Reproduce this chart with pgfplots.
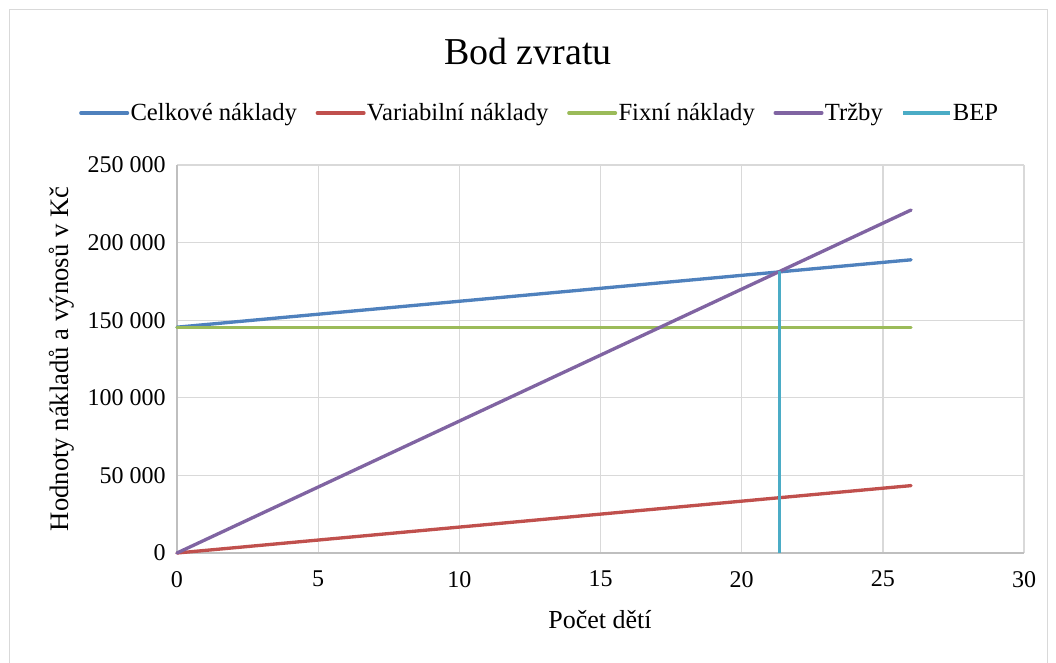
\documentclass[border=0pt]{standalone}
\usepackage{pgfplots}
\pgfplotsset{compat=1.18}
\usepackage{fontspec}
\setmainfont{Liberation Serif}
\definecolor{cCel}{HTML}{4F81BD}
\definecolor{cVar}{HTML}{C0504D}
\definecolor{cFix}{HTML}{9BBB59}
\definecolor{cTrz}{HTML}{8064A2}
\definecolor{cBEP}{HTML}{4BACC6}
\definecolor{gridc}{HTML}{D9D9D9}
\definecolor{axisc}{HTML}{BFBFBF}
\begin{document}
\begin{tikzpicture}
\useasboundingbox (-132.75pt,-81.75pt) rectangle (659.25pt,414.75pt);
\draw[gridc,line width=0.75pt] (-125.25pt,-90pt) -- (-125.25pt,407.25pt) -- (652.5pt,407.25pt) -- (652.5pt,-90pt);
\begin{axis}[
  at={(0,0)}, anchor=south west,
  scale only axis, width=635.25pt, height=291pt,
  xmin=0, xmax=30, ymin=0, ymax=250000,
  scaled y ticks=false,
  xtick={0,5,10,15,20,25,30}, ytick={0,50000,100000,150000,200000,250000},
  xticklabels={0,5,10,15,20,25,30},
  yticklabels={0,50 000,100 000,150 000,200 000,250 000},
  grid=major, major grid style={gridc, line width=1pt},
  axis line style={draw=none},
  tick style={draw=none},
  tick label style={font=\fontsize{18}{20}\selectfont},
  yticklabel style={xshift=-5pt},
  xticklabel style={yshift=-10pt},
  legend columns=5,
  legend style={at={(272.25pt,330pt)}, anchor=center, draw=none, fill=none,
    font=\fontsize{18.5}{20}\selectfont,
    /tikz/every odd column/.append style={column sep=-1pt},
    /tikz/every even column/.append style={column sep=12pt}},
  legend image code/.code={\draw[#1] (0pt,0pt) -- (35pt,0pt);},
  every axis plot/.append style={line width=2.5pt, line cap=round},
  clip=false,
]
\draw[axisc, line width=1pt] (axis cs:0,0) -- (axis cs:30,0);
\draw[axisc, line width=1pt] (axis cs:0,0) -- (axis cs:0,250000);
\addplot[cCel] coordinates {(0,145500) (26,188920)};
\addlegendentry{Celkové náklady}
\addplot[cVar] coordinates {(0,0) (26,43420)};
\addlegendentry{Variabilní náklady}
\addplot[cFix] coordinates {(0,145500) (26,145500)};
\addlegendentry{Fixní náklady}
\addplot[cTrz] coordinates {(0,0) (26,221000)};
\addlegendentry{Tržby}
\addplot[cBEP, line cap=butt] coordinates {(21.35,0) (21.35,182000)};
\addlegendentry{BEP}
\end{axis}
\node[font=\fontsize{28.5}{32}\selectfont] at (263.25pt,375.75pt) {Bod zvratu};
\node[font=\fontsize{19.5}{22}\selectfont] at (317.25pt,-50.25pt) {Počet dětí};
\node[font=\fontsize{20}{22}\selectfont, rotate=90] at (-86.25pt,145.5pt) {Hodnoty nákladů a výnosů v Kč};
\end{tikzpicture}
\end{document}
